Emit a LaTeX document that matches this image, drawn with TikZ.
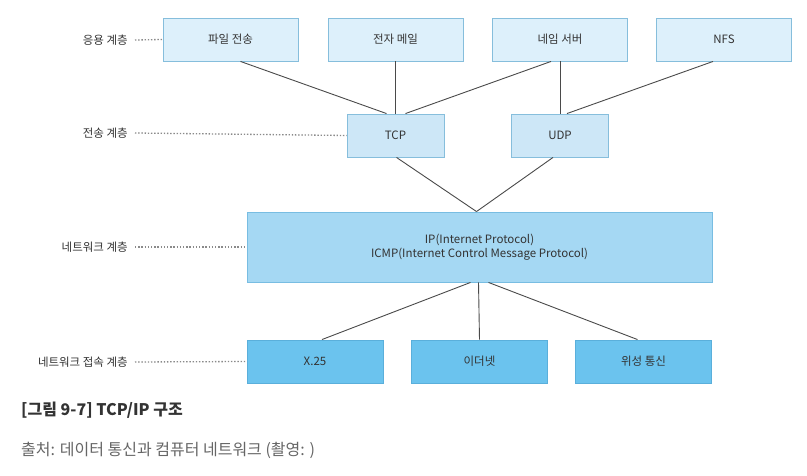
\documentclass[tikz,border=0pt]{standalone}
\usepackage{fontspec}
\setmainfont{Noto Sans CJK KR}
\definecolor{topfill}{HTML}{DDF0FB}
\definecolor{topdraw}{HTML}{86BEDC}
\definecolor{tfill}{HTML}{CDE7F7}
\definecolor{ipfill}{HTML}{A5D8F3}
\definecolor{ipdraw}{HTML}{78BDE2}
\definecolor{botfill}{HTML}{6BC3EE}
\definecolor{botdraw}{HTML}{5AAFDB}
\definecolor{txt}{HTML}{333333}
\definecolor{conn}{HTML}{4A4A4A}
\definecolor{dots}{HTML}{8A8A8A}
\tikzset{
  box/.style={draw=topdraw, line width=0.9pt, minimum height=43pt, inner sep=0pt, font=\fontsize{11.5}{14}\selectfont, text=txt},
  topbox/.style={box, fill=topfill, minimum width=135pt},
  tbox/.style={box, fill=tfill, minimum width=97pt},
  ipbox/.style={box, fill=ipfill, draw=ipdraw, minimum width=465pt, minimum height=70pt, align=center},
  botbox/.style={box, fill=botfill, draw=botdraw, minimum width=136pt},
  conn/.style={draw=conn, line width=0.9pt},
  dotline/.style={draw=dots, line width=1.3pt, dash pattern=on 1.4pt off 1.8pt},
  lab/.style={font=\fontsize{11.5}{13}\selectfont, text=txt, anchor=east, inner sep=0pt}
}
\begin{document}
\begin{tikzpicture}[x=1pt,y=-1pt]
\useasboundingbox[fill=white] (0,0) rectangle (807,476);
% application layer
\node[topbox] (ft) at (230.5,39.5) {파일 전송};
\node[topbox] (em) at (395.5,39.5) {전자 메일};
\node[topbox] (ns) at (560,39.5) {네임 서버};
\node[topbox] (nfs) at (724,39.5) {NFS};
% transport
\node[tbox] (tcp) at (395.5,135.5) {TCP};
\node[tbox] (udp) at (560,135.5) {UDP};
% network
\node[ipbox] (ip) at (479.5,247) {IP(Internet Protocol)\\ICMP(Internet Control Message Protocol)};
% access
\node[botbox] (x25) at (315,361.5) {X.25};
\node[botbox] (eth) at (479.5,361.5) {이더넷};
\node[botbox] (sat) at (643.5,361.5) {위성 통신};
% connectors
\coordinate (ftb) at ([xshift=10pt]ft.south);
\coordinate (tcpa) at ([xshift=-9pt]tcp.north);
\coordinate (tcpc) at ([xshift=10pt]tcp.north);
\coordinate (nsa) at ([xshift=-9pt]ns.south);
\coordinate (nfsb) at ([xshift=-11pt]nfs.south);
\coordinate (udpa) at ([xshift=7pt]udp.north);
\coordinate (tcpb) at ([xshift=1pt]tcp.south);
\coordinate (udpb) at ([xshift=-7pt]udp.south);
\coordinate (ipt) at ([xshift=-3pt]ip.north);
\coordinate (ipb1) at ([xshift=-9pt]ip.south);
\coordinate (ipb2) at ([xshift=-1pt]ip.south);
\coordinate (ipb3) at ([xshift=9pt]ip.south);
\coordinate (x25t) at ([xshift=7pt]x25.north);
\coordinate (satt) at ([xshift=-6pt]sat.north);
\draw[conn] (ftb) -- (tcpa);
\draw[conn] (em.south) -- (tcp.north);
\draw[conn] (nsa) -- (tcpc);
\draw[conn] (ns.south) -- (udp.north);
\draw[conn] (nfsb) -- (udpa);
\draw[conn] (tcpb) -- (ipt);
\draw[conn] (udpb) -- (ipt);
\draw[conn] (ipb1) -- (x25t);
\draw[conn] (ipb2) -- (eth.north);
\draw[conn] (ipb3) -- (satt);
% layer labels
\node[lab] (l1) at (128,40) {응용 계층};
\node[lab] (l2) at (128,133) {전송 계층};
\node[lab] (l3) at (128,247) {네트워크 계층};
\node[lab] (l4) at (128,362) {네트워크 접속 계층};
\draw[dotline] ([xshift=7pt]l1.east) -- (ft.west);
\draw[dotline] ([xshift=7pt]l2.east) -- (tcp.west);
\draw[dotline] ([xshift=7pt]l3.east) -- (ip.west);
\draw[dotline] ([xshift=7pt]l4.east) -- (x25.west);
% caption
\node[anchor=west, inner sep=0pt, font=\fontsize{16}{19}\bfseries, text=txt] (cap) at (21,410) {[그림 9-7] TCP/IP 구조};
\node[anchor=west, inner sep=0pt, font=\fontsize{16}{19}\selectfont, text={black!60}] (src) at (21,450) {출처: 데이터 통신과 컴퓨터 네트워크 (촬영: )};
\end{tikzpicture}
\end{document}
